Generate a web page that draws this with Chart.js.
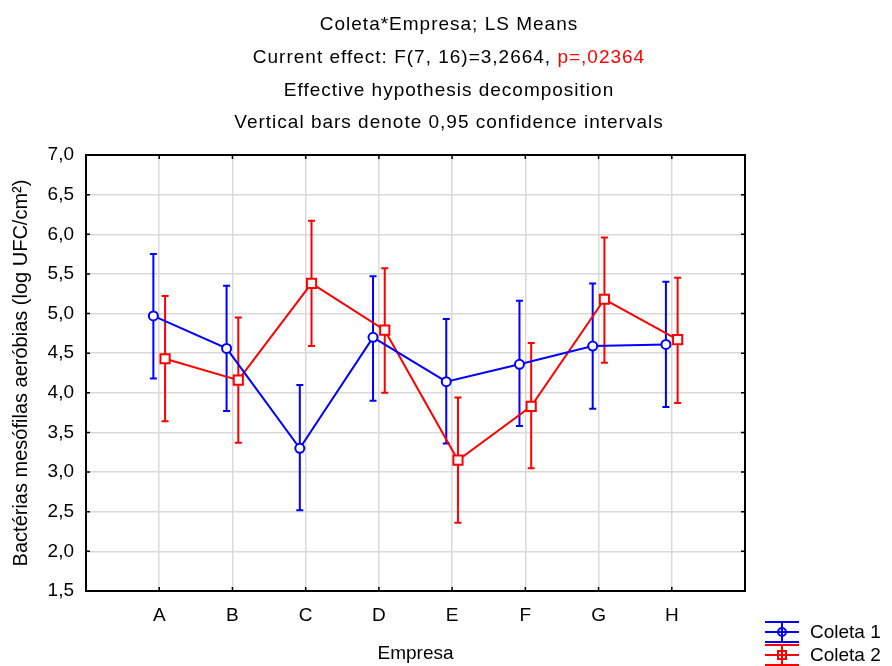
<!DOCTYPE html>
<html>
<head>
<meta charset="utf-8">
<script src="https://cdn.jsdelivr.net/npm/chart.js@4"></script>
<style>
  html, body { margin: 0; padding: 0; background: #fff; }
  canvas { display: block; }
</style>
</head>
<body>
<canvas id="chart" width="892" height="666"></canvas>
<script>
const categories = ['A', 'B', 'C', 'D', 'E', 'F', 'G', 'H'];

const coleta1 = [4.97, 4.56, 3.30, 4.70, 4.14, 4.36, 4.59, 4.61];
const coleta1Low = [4.18, 3.77, 2.52, 3.90, 3.36, 3.58, 3.80, 3.82];
const coleta1High = [5.75, 5.35, 4.10, 5.47, 4.93, 5.16, 5.38, 5.40];

const coleta2 = [4.43, 4.16, 5.38, 4.79, 3.15, 3.83, 5.18, 4.67];
const coleta2Low = [3.64, 3.37, 4.59, 4.00, 2.36, 3.05, 4.38, 3.87];
const coleta2High = [5.22, 4.95, 6.17, 5.57, 3.94, 4.63, 5.96, 5.45];

const yTicks = [1.5, 2.0, 2.5, 3.0, 3.5, 4.0, 4.5, 5.0, 5.5, 6.0, 6.5, 7.0];

const titleLines = [
    [['Coleta*Empresa; LS Means', '#000']],
    [['Current effect: F(7, 16)=3,2664, ', '#000'], ['p=,02364', '#ff0000']],
    [['Effective hypothesis decomposition', '#000']],
    [['Vertical bars denote 0,95 confidence intervals', '#000']]
];

const FONT = '"Liberation Sans", Arial, sans-serif';
const shift = 0.08; // horizontal offset of the two series around each category

const fmt = v => v.toFixed(1).replace('.', ',');

function points(values, dx) {
    return values.map((v, i) => ({ x: i + 1 + dx, y: v }));
}

const datasets = [
    {
        label: 'Coleta 1',
        data: points(coleta1, -shift),
        low: coleta1Low,
        high: coleta1High,
        dx: -shift,
        borderColor: '#0000ff',
        backgroundColor: '#ffffff',
        pointStyle: 'circle',
        pointRadius: 4.5,
        pointBorderWidth: 2,
        borderWidth: 2
    },
    {
        label: 'Coleta 2',
        data: points(coleta2, shift),
        low: coleta2Low,
        high: coleta2High,
        dx: shift,
        borderColor: '#ff0000',
        backgroundColor: '#ffffff',
        pointStyle: 'rect',
        pointRadius: 6.5,
        pointBorderWidth: 2,
        borderWidth: 2
    }
];

// error bars, drawn under the lines and markers
const errorBars = {
    id: 'errorBars',
    beforeDatasetsDraw(chart) {
        const { ctx, scales: { x, y } } = chart;
        ctx.save();
        for (const ds of chart.data.datasets) {
            ctx.strokeStyle = ds.borderColor;
            ctx.lineWidth = 2;
            ds.low.forEach((lo, i) => {
                const px = x.getPixelForValue(i + 1 + ds.dx);
                const top = y.getPixelForValue(ds.high[i]);
                const bot = y.getPixelForValue(lo);
                ctx.beginPath();
                ctx.moveTo(px, top);
                ctx.lineTo(px, bot);
                ctx.moveTo(px - 3.5, top);
                ctx.lineTo(px + 3.5, top);
                ctx.moveTo(px - 3.5, bot);
                ctx.lineTo(px + 3.5, bot);
                ctx.stroke();
            });
        }
        ctx.restore();
    }
};

// frame with inward tick marks, title block, legend
const decorations = {
    id: 'decorations',
    afterDraw(chart) {
        const { ctx, chartArea: a, scales: { x, y } } = chart;
        ctx.save();

        ctx.strokeStyle = '#000';
        ctx.lineWidth = 2;
        ctx.strokeRect(a.left, a.top, a.right - a.left, a.bottom - a.top);

        ctx.lineWidth = 1.5;
        ctx.beginPath();
        for (const v of yTicks) {
            const py = y.getPixelForValue(v);
            ctx.moveTo(a.left, py); ctx.lineTo(a.left + 4, py);
            ctx.moveTo(a.right, py); ctx.lineTo(a.right - 4, py);
        }
        categories.forEach((c, i) => {
            const px = x.getPixelForValue(i + 1);
            ctx.moveTo(px, a.bottom); ctx.lineTo(px, a.bottom - 4);
            ctx.moveTo(px, a.top); ctx.lineTo(px, a.top + 4);
        });
        ctx.stroke();

        // title
        ctx.font = '19px ' + FONT;
        ctx.letterSpacing = '1px';
        ctx.textBaseline = 'middle';
        ctx.textAlign = 'left';
        titleLines.forEach((parts, li) => {
            const total = parts.reduce((s, p) => s + ctx.measureText(p[0]).width, 0);
            let tx = 449 - total / 2;
            const ty = 25 + li * 32.7;
            for (const [text, color] of parts) {
                ctx.fillStyle = color;
                ctx.fillText(text, tx, ty);
                tx += ctx.measureText(text).width;
            }
        });
        ctx.letterSpacing = '0px';

        // legend
        chart.data.datasets.forEach((ds, i) => {
            const cy = 632 + i * 23;
            const x0 = 765, x1 = 799, xm = 782;
            ctx.strokeStyle = ds.borderColor;
            ctx.lineWidth = 2;
            ctx.beginPath();
            ctx.moveTo(x0, cy - 10); ctx.lineTo(x1, cy - 10);
            ctx.moveTo(x0, cy); ctx.lineTo(x1, cy);
            ctx.moveTo(x0, cy + 10); ctx.lineTo(x1, cy + 10);
            ctx.moveTo(xm, cy - 10); ctx.lineTo(xm, cy + 10);
            ctx.stroke();
            ctx.fillStyle = '#fff';
            ctx.beginPath();
            if (ds.pointStyle === 'circle') {
                ctx.arc(xm, cy, 4, 0, Math.PI * 2);
            } else {
                ctx.rect(xm - 4, cy - 4, 8, 8);
            }
            ctx.fill();
            ctx.stroke();
            ctx.beginPath();
            ctx.moveTo(xm - 4, cy); ctx.lineTo(xm + 4, cy);
            ctx.moveTo(xm, cy - 4); ctx.lineTo(xm, cy + 4);
            ctx.stroke();
            ctx.fillStyle = '#000';
            ctx.fillText(ds.label, 810, cy + 1);
        });

        ctx.restore();
    }
};

new Chart(document.getElementById('chart'), {
    type: 'line',
    data: { datasets },
    plugins: [errorBars, decorations],
    options: {
        responsive: false,
        animation: false,
        devicePixelRatio: 1,
        layout: { padding: { top: 155, right: 147, bottom: 0, left: 0 } },
        plugins: {
            legend: { display: false },
            title: { display: false },
            tooltip: { enabled: false }
        },
        scales: {
            x: {
                type: 'linear',
                min: 0,
                max: categories.length + 1,
                afterBuildTicks: scale => {
                    scale.ticks = categories.map((c, i) => ({ value: i + 1 }));
                },
                afterFit: scale => { scale.height = 75; },
                ticks: {
                    callback: v => categories[v - 1],
                    color: '#000',
                    font: { family: FONT, size: 19 },
                    padding: 13,
                    maxRotation: 0
                },
                grid: { color: '#d9d9d9', lineWidth: 1.5, drawTicks: false },
                border: { display: false },
                title: {
                    display: true,
                    text: 'Empresa',
                    color: '#000',
                    font: { family: FONT, size: 19 },
                    padding: { top: 0, bottom: 1 }
                }
            },
            y: {
                min: 1.5,
                max: 7.0,
                afterBuildTicks: scale => {
                    scale.ticks = yTicks.map(v => ({ value: v }));
                },
                afterFit: scale => { scale.width = 86; },
                ticks: {
                    callback: v => fmt(v),
                    color: '#000',
                    font: { family: FONT, size: 19 },
                    padding: 12
                },
                grid: { color: '#d9d9d9', lineWidth: 1.5, drawTicks: false },
                border: { display: false },
                title: {
                    display: true,
                    text: 'Bactérias mesófilas aeróbias (log UFC/cm²)',
                    color: '#000',
                    font: { family: FONT, size: 20 },
                    padding: { top: 9, bottom: 0 }
                }
            }
        }
    }
});
</script>
</body>
</html>
